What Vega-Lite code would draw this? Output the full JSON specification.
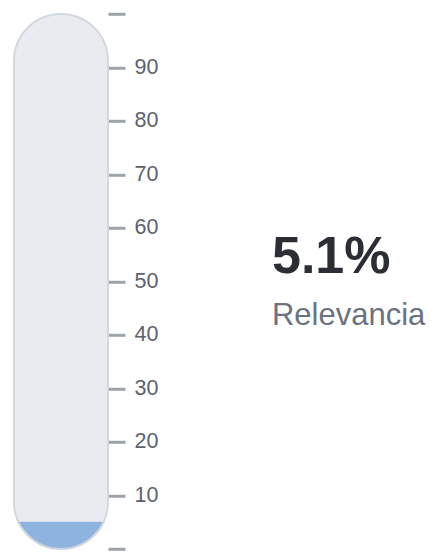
{
  "$schema": "https://vega.github.io/schema/vega-lite/v6.json",
  "padding": {"left": 12, "top": 2.79, "right": 0, "bottom": 0},
  "background": "white",
  "datasets": {"gauge": [{"metric": "Relevancia", "value": 5.1, "min": 0, "max": 100}]},
  "data": {"name": "gauge"},
  "config": {"view": {"stroke": null}, "font": "Liberation Sans"},
  "spacing": 200,
  "bounds": "flush",
  "hconcat": [
    {
      "spacing": 0,
      "bounds": "flush",
      "vconcat": [
        {
          "width": 98,
          "height": 510.925,
          "mark": {"type": "bar", "fill": "#e9ebf0", "stroke": "#d3d8df", "strokeWidth": 2, "cornerRadius": 47, "clip": true},
          "encoding": {
            "x": {"field": "metric", "type": "nominal", "scale": {"paddingInner": 0, "paddingOuter": 0.0213}, "axis": null},
            "y": {
              "field": "min", "type": "quantitative",
              "scale": {"domain": [5.1, 100.6], "nice": false, "zero": false},
              "axis": {"orient": "right", "values": [10, 20, 30, 40, 50, 60, 70, 80, 90, 100], "labelExpr": "datum.value == 100 ? '' : datum.label", "domain": false, "grid": false, "tickColor": "#9ea3aa", "tickWidth": 3, "tickSize": 17, "offset": -2, "labelPadding": 9, "labelFontSize": 21.5, "labelColor": "#5b626d", "labelFont": "Liberation Sans", "title": null, "labelFlush": false, "labelOverlap": false}
            },
            "y2": {"field": "max"}
          }
        },
        {
          "width": 98,
          "height": 30.495,
          "mark": {"type": "bar", "fill": "#8db3de", "stroke": "#cfd5dd", "strokeWidth": 2, "cornerRadius": 47, "clip": true},
          "encoding": {
            "x": {"field": "metric", "type": "nominal", "scale": {"paddingInner": 0, "paddingOuter": 0.0213}, "axis": null},
            "y": {
              "field": "min", "type": "quantitative",
              "scale": {"domain": [-0.6, 5.1], "nice": false, "zero": false},
              "axis": {"orient": "right", "values": [0], "labels": false, "domain": false, "grid": false, "tickColor": "#9ea3aa", "tickWidth": 3, "tickSize": 17, "offset": -2, "title": null}
            },
            "y2": {"field": "max"}
          }
        }
      ]
    },
    {
      "width": 120,
      "height": 524.4,
      "transform": [{"calculate": "format(datum.value, '.1f') + '%'", "as": "value_text"}],
      "layer": [
        {
          "mark": {"type": "text", "align": "left", "baseline": "alphabetic", "font": "Liberation Sans", "fontSize": 52, "fontWeight": "bold", "color": "#2b2e35"},
          "encoding": {"text": {"field": "value_text"}}
        },
        {
          "mark": {"type": "text", "align": "left", "baseline": "alphabetic", "dy": 52, "font": "Liberation Sans", "fontSize": 31, "color": "#6b7280"},
          "encoding": {"text": {"field": "metric"}}
        }
      ]
    }
  ]
}
